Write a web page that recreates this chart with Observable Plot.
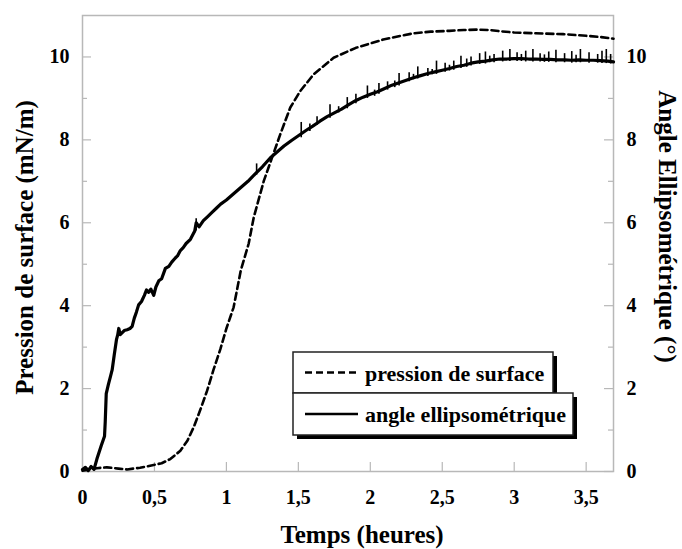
<!DOCTYPE html>
<html>
<head>
<meta charset="utf-8">
<script src="https://cdn.jsdelivr.net/npm/d3@7"></script>
<script src="https://cdn.jsdelivr.net/npm/@observablehq/plot@0.6"></script>
<style>
  html, body { margin: 0; padding: 0; background: #fff; }
  #chart { position: relative; width: 682px; height: 549px; }
</style>
</head>
<body>
<div id="chart"></div>
<script>
// ---- data ----
const xTicks = [0, 0.5, 1, 1.5, 2, 2.5, 3, 3.5];
const yTicksMajor = [0, 2, 4, 6, 8, 10];
const yTicksMinor = [1, 3, 5, 7, 9];

const seriesNames = ["pression de surface", "angle ellipsométrique"];
const xTitle = "Temps (heures)";
const yLeftTitle = "Pression de surface (mN/m)";
const yRightTitle = "Angle Ellipsométrique (°)";

// pression de surface (mN/m), dashed
const tPression = [0, 0.05, 0.1, 0.17, 0.25, 0.31, 0.4, 0.47, 0.55, 0.61, 0.68, 0.73, 0.773, 0.82, 0.866, 0.91, 0.958, 1.0, 1.05, 1.1, 1.155, 1.19, 1.26, 1.317, 1.375, 1.444, 1.514, 1.606, 1.745, 1.9, 2.09, 2.21, 2.3, 2.42, 2.55, 2.65, 2.75, 2.83, 2.9, 3.0, 3.15, 3.34, 3.5, 3.6, 3.69];
const pression  = [0.02, 0.05, 0.08, 0.1, 0.07, 0.05, 0.09, 0.14, 0.2, 0.3, 0.5, 0.75, 1.07, 1.5, 1.95, 2.45, 2.95, 3.45, 3.96, 4.85, 5.5, 6.13, 7.01, 7.57, 8.14, 8.78, 9.18, 9.58, 9.98, 10.22, 10.42, 10.51, 10.57, 10.61, 10.63, 10.65, 10.66, 10.65, 10.62, 10.59, 10.57, 10.55, 10.51, 10.48, 10.44];

// angle ellipsométrique (°), solid
const tAngle = [0, 0.02, 0.04, 0.06, 0.08, 0.1, 0.13, 0.153, 0.158, 0.165, 0.18, 0.195, 0.206, 0.22, 0.236, 0.245, 0.252, 0.262, 0.276, 0.29, 0.31, 0.33, 0.345, 0.36, 0.375, 0.39, 0.41, 0.43, 0.445, 0.46, 0.475, 0.495, 0.51, 0.53, 0.55, 0.576, 0.6, 0.62, 0.645, 0.66, 0.68, 0.7, 0.72, 0.75, 0.78, 0.79, 0.81, 0.84, 0.87, 0.9, 0.93, 0.96, 1.0, 1.05, 1.1, 1.15, 1.2, 1.25, 1.306, 1.35, 1.4, 1.45,
  1.5, 1.55, 1.6, 1.65, 1.7, 1.75, 1.8, 1.85, 1.9, 1.95, 2.0, 2.05, 2.1, 2.15, 2.2, 2.25, 2.3, 2.35, 2.4, 2.45, 2.5, 2.55, 2.6, 2.65, 2.7, 2.75, 2.8, 2.85, 2.9, 2.95, 3.0, 3.05, 3.1, 3.15, 3.2, 3.25, 3.3, 3.35, 3.4, 3.45, 3.5, 3.55, 3.6, 3.65, 3.69];
const angle = [0.05, 0.1, 0.02, 0.12, 0.05, 0.3, 0.62, 0.85, 1.2, 1.88, 2.1, 2.3, 2.45, 2.8, 3.18, 3.3, 3.45, 3.3, 3.35, 3.4, 3.42, 3.45, 3.5, 3.7, 3.85, 4.02, 4.1, 4.25, 4.38, 4.32, 4.4, 4.25, 4.45, 4.6, 4.65, 4.9, 4.95, 5.05, 5.15, 5.2, 5.33, 5.4, 5.5, 5.6, 5.8, 6.0, 5.9, 6.05, 6.15, 6.25, 6.35, 6.45, 6.55, 6.7, 6.85, 7.0, 7.18, 7.35, 7.57, 7.7, 7.85, 7.98,
  8.1, 8.22, 8.33, 8.45, 8.56, 8.65, 8.74, 8.85, 8.95, 9.03, 9.1, 9.16, 9.24, 9.32, 9.38, 9.44, 9.5, 9.55, 9.6, 9.64, 9.68, 9.72, 9.77, 9.8, 9.85, 9.88, 9.9, 9.93, 9.95, 9.95, 9.96, 9.96, 9.95, 9.95, 9.94, 9.94, 9.93, 9.93, 9.92, 9.93, 9.92, 9.92, 9.91, 9.9, 9.88];

// noise spikes on the angle trace (time, bottom, top)
const spikeT  = [0.79, 1.21, 1.52, 1.58, 1.63, 1.72, 1.78, 1.84, 1.9, 1.98, 2.03, 2.06, 2.12, 2.17, 2.2, 2.27, 2.3, 2.33, 2.4, 2.43, 2.46, 2.52, 2.55, 2.58, 2.63, 2.67, 2.7, 2.76, 2.8, 2.83, 2.86, 2.92, 2.97, 3.02, 3.05, 3.08, 3.13, 3.18, 3.21, 3.24, 3.29, 3.35, 3.4, 3.43, 3.46, 3.52, 3.58, 3.61, 3.64, 3.67];
const spikeLo = [5.8, 7.15, 8.05, 8.2, 8.35, 8.52, 8.65, 8.75, 8.87, 9.0, 9.05, 9.1, 9.2, 9.26, 9.3, 9.4, 9.45, 9.47, 9.53, 9.57, 9.58, 9.63, 9.66, 9.68, 9.72, 9.75, 9.78, 9.82, 9.83, 9.86, 9.86, 9.88, 9.89, 9.89, 9.89, 9.88, 9.88, 9.88, 9.87, 9.87, 9.86, 9.86, 9.85, 9.86, 9.86, 9.85, 9.85, 9.84, 9.84, 9.83];
const spikeHi = [6.1, 7.42, 8.42, 8.38, 8.56, 8.85, 8.8, 9.02, 9.1, 9.3, 9.2, 9.36, 9.4, 9.42, 9.6, 9.62, 9.58, 9.76, 9.72, 9.7, 9.9, 9.85, 9.8, 9.9, 10.02, 9.95, 10.0, 10.08, 10.12, 10.02, 10.06, 10.14, 10.18, 10.1, 10.06, 10.14, 10.18, 10.08, 10.05, 10.12, 10.16, 10.08, 10.13, 10.04, 10.18, 10.1, 10.06, 10.14, 10.18, 10.06];

const pressionData = tPression.map((t, i) => ({t, v: pression[i]}));
const angleData = tAngle.map((t, i) => ({t, v: angle[i]}));
const spikeData = spikeT.map((t, i) => ({t, lo: spikeLo[i], hi: spikeHi[i]}));

// ---- layout ----
const W = 682, H = 549;
const mL = 82, mR = 69, mT = 15, mB = 78;
const innerW = W - mL - mR, innerH = H - mT - mB;
const gridGray = "#b8b8b8";
const dash = "7,4";
const fmt = d => String(d).replace(".", ",");

const plot = Plot.plot({
  width: W, height: H,
  marginLeft: mL, marginRight: mR, marginTop: mT, marginBottom: mB,
  style: {fontFamily: "'Liberation Serif', 'Times New Roman', serif", fontSize: "20px", fontWeight: "bold", color: "black", background: "white"},
  x: {domain: [0, 3.69]},
  y: {domain: [0, 11]},
  marks: [
    Plot.frame({stroke: gridGray, strokeWidth: 1.5}),
    // inward ticks
    Plot.tickY(yTicksMajor, {y: d => d, insetRight: innerW - 9, stroke: gridGray, strokeWidth: 1.2}),
    Plot.tickY(yTicksMinor, {y: d => d, insetRight: innerW - 5, stroke: gridGray, strokeWidth: 1.2}),
    Plot.tickY(yTicksMajor, {y: d => d, insetLeft: innerW - 9, stroke: gridGray, strokeWidth: 1.2}),
    Plot.tickY(yTicksMinor, {y: d => d, insetLeft: innerW - 5, stroke: gridGray, strokeWidth: 1.2}),
    Plot.tickX(xTicks.slice(1), {x: d => d, insetTop: innerH - 9, stroke: gridGray, strokeWidth: 1.2}),
    Plot.axisX({ticks: xTicks, tickSize: 0, tickPadding: 18, tickFormat: fmt, label: null}),
    Plot.axisY({anchor: "left", ticks: yTicksMajor, tickSize: 0, tickPadding: 13, label: null}),
    Plot.axisY({anchor: "right", ticks: yTicksMajor, tickSize: 0, tickPadding: 13, label: null}),
    Plot.line(pressionData, {x: "t", y: "v", stroke: "black", strokeWidth: 2.6, strokeDasharray: dash}),
    Plot.ruleX(spikeData, {x: "t", y1: "lo", y2: "hi", stroke: "black", strokeWidth: 1.6}),
    Plot.line(angleData, {x: "t", y: "v", stroke: "black", strokeWidth: 3.2}),
    Plot.text([xTitle], {frameAnchor: "bottom", textAnchor: "middle", lineAnchor: "middle", dx: 14, dy: 63, fontSize: 25, fontWeight: "bold", fill: "black"}),
    Plot.text([yLeftTitle], {frameAnchor: "left", textAnchor: "middle", lineAnchor: "middle", dx: -58, dy: 4, rotate: -90, fontSize: 25, fontWeight: "bold", fill: "black"}),
    Plot.text([yRightTitle], {frameAnchor: "right", textAnchor: "middle", lineAnchor: "middle", dx: 53, dy: -17, rotate: 90, fontSize: 25, fontWeight: "bold", fill: "black"})
  ]
});

// ---- legend (two shadowed boxes) ----
const svg = d3.select(plot);
const lg = svg.append("g").attr("font-family", "'Liberation Serif', 'Times New Roman', serif").attr("font-weight", "bold").attr("font-size", 22).attr("text-anchor", "start");
const boxes = [
  {x: 293, y: 352, w: 260, h: 41, name: seriesNames[0], dashed: true},
  {x: 293, y: 393, w: 280, h: 42, name: seriesNames[1], dashed: false}
];
boxes.forEach(b => {
  lg.append("rect").attr("x", b.x + 4).attr("y", b.y + 4).attr("width", b.w).attr("height", b.h).attr("fill", "black");
  lg.append("rect").attr("x", b.x).attr("y", b.y).attr("width", b.w).attr("height", b.h).attr("fill", "white").attr("stroke", "#222").attr("stroke-width", 1.5);
  lg.append("line").attr("x1", b.x + 12).attr("x2", b.x + 65).attr("y1", b.y + b.h / 2).attr("y2", b.y + b.h / 2)
    .attr("stroke", "black").attr("stroke-width", 2.6).attr("stroke-dasharray", b.dashed ? dash : null);
  lg.append("text").attr("x", b.x + 72).attr("y", b.y + b.h / 2 + 8).attr("fill", "black").attr("text-anchor", "start").text(b.name);
});

document.getElementById("chart").appendChild(plot);
</script>
</body>
</html>
